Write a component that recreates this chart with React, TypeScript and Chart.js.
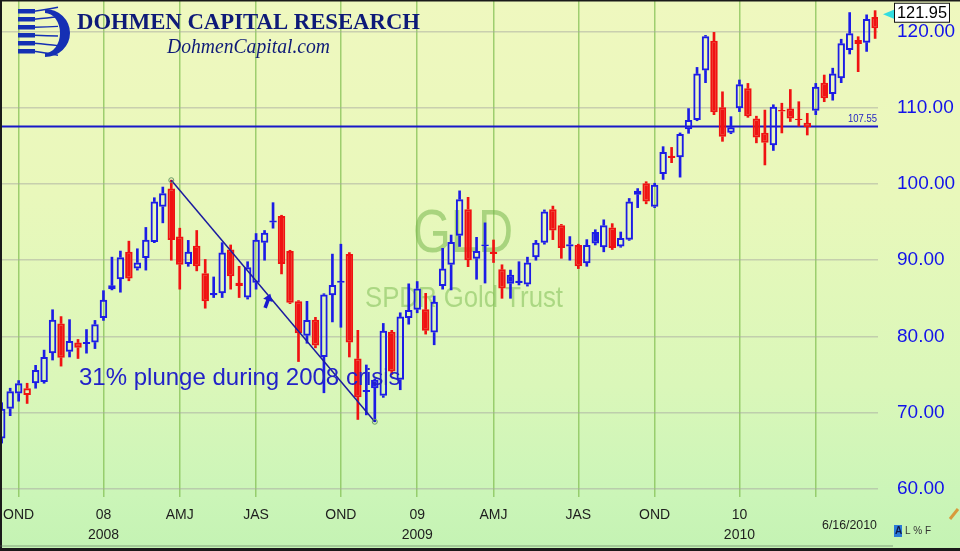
import React, { useEffect, useRef } from "react";
import { Chart, registerables } from "chart.js";

Chart.register(...registerables);

// ---- data ----
const OPEN = [
  66.6, 70.5, 72.5, 72.3, 73.85, 74.0, 77.8, 81.7, 78.0, 79.2,
  79.0, 79.2, 82.4, 86.2, 87.5, 91.1, 88.9, 90.3, 92.4, 97.0,
  99.4, 93.1, 89.5, 91.9, 88.3, 85.7, 85.65, 91.4, 86.6, 85.1,
  87.05, 92.3, 94.95, 95.8, 91.2, 84.6, 80.1, 82.2, 77.3, 85.4,
  87.3, 90.8, 77.1, 72.7, 74.3, 72.2, 80.6, 74.3, 82.4, 83.5,
  83.55, 80.5, 86.6, 89.4, 93.2, 96.7, 90.2, 91.85, 90.8, 88.8,
  88.1, 87.0, 86.8, 90.4, 92.3, 96.7, 94.6, 91.8, 92.0, 89.6,
  93.7, 91.7, 94.3, 91.8, 92.7, 99.1, 100.1, 97.0, 101.3, 103.4,
  103.5, 107.2, 108.4, 114.9, 118.8, 110.06, 106.74, 109.93, 112.55, 108.6,
  106.74, 105.1, 109.7, 109.9, 108.55, 107.44, 109.6, 113.3, 111.8, 113.87,
  117.6, 118.37, 118.55, 121.9,
];
const HIGH = [
  71.3, 73.2, 74.2, 73.85, 76.2, 78.2, 83.5, 82.6, 82.2, 79.6,
  80.9, 82.1, 86.0, 90.4, 91.2, 92.5, 91.5, 94.3, 98.2, 99.6,
  100.5, 94.2, 92.6, 93.9, 90.1, 87.8, 92.3, 92.0, 89.2, 89.8,
  93.5, 93.9, 97.55, 95.9, 91.3, 84.7, 84.6, 82.5, 85.6, 90.8,
  92.1, 91.0, 80.8, 76.25, 74.4, 81.7, 80.8, 83.1, 86.9, 87.2,
  85.65, 85.3, 91.56, 93.3, 99.1, 98.25, 93.0, 94.9, 92.65, 89.4,
  88.7, 89.8, 90.4, 92.6, 96.6, 97.1, 94.7, 93.1, 92.1, 92.7,
  94.0, 95.3, 94.8, 93.7, 98.1, 99.4, 100.3, 100.1, 104.9, 104.8,
  106.7, 109.9, 115.3, 119.5, 119.9, 112.1, 108.84, 113.65, 113.2, 108.9,
  109.7, 110.4, 110.6, 112.4, 110.8, 109.27, 113.2, 114.3, 115.2, 119.0,
  122.5, 119.33, 122.2, 122.75,
];
const LOW = [
  66.0, 69.6, 71.5, 71.2, 73.2, 73.85, 76.9, 76.1, 77.3, 77.1,
  77.8, 78.4, 82.1, 86.1, 85.8, 87.3, 88.7, 88.7, 92.3, 94.9,
  90.0, 86.2, 89.2, 88.6, 83.7, 85.1, 85.1, 86.2, 85.1, 84.9,
  86.2, 90.0, 94.2, 88.2, 84.3, 76.7, 79.1, 78.5, 72.6, 81.9,
  81.2, 77.3, 69.1, 69.7, 68.8, 72.0, 75.0, 73.0, 81.6, 83.1,
  80.3, 78.9, 86.2, 86.1, 91.8, 89.15, 87.5, 87.0, 89.7, 85.0,
  85.0, 86.75, 86.6, 90.0, 92.1, 92.7, 90.25, 90.0, 88.9, 89.2,
  92.0, 91.1, 91.4, 91.7, 92.6, 96.9, 97.4, 96.9, 100.6, 102.8,
  100.9, 106.65, 108.3, 113.3, 109.1, 105.6, 106.6, 109.5, 108.75, 105.4,
  102.5, 104.4, 106.7, 108.2, 107.6, 106.43, 109.1, 110.8, 111.0, 113.3,
  117.06, 114.74, 117.4, 119.1,
];
const CLOSE = [
  70.5, 72.8, 73.85, 73.2, 75.6, 77.3, 82.2, 77.2, 79.4, 78.5,
  79.25, 81.6, 84.8, 86.7, 90.4, 87.6, 89.7, 92.7, 97.7, 98.8,
  92.65, 89.4, 91.1, 89.2, 84.6, 85.4, 91.0, 87.9, 87.05, 89.06,
  92.7, 93.6, 95.2, 89.5, 84.4, 80.4, 82.15, 78.8, 85.5, 86.75,
  87.05, 79.2, 72.0, 72.95, 73.2, 80.75, 75.4, 82.6, 83.46, 86.3,
  80.75, 84.56, 88.9, 92.4, 98.0, 90.0, 91.2, 92.05, 91.1, 86.3,
  86.9, 87.3, 89.7, 92.3, 96.4, 93.9, 91.6, 92.1, 89.2, 92.0,
  92.2, 94.6, 91.6, 92.9, 97.7, 98.6, 97.7, 99.9, 104.2, 103.7,
  106.56, 108.4, 114.5, 119.4, 109.4, 106.2, 107.44, 113.08, 108.9, 106.1,
  105.4, 110.15, 109.5, 108.6, 108.4, 108.05, 112.77, 111.24, 114.5, 118.46,
  119.77, 118.9, 121.65, 120.45,
];

const QUARTER_IDX = [2, 12, 21, 30, 40, 49, 58, 68, 77, 87, 96];
const QUARTER_LABELS: string[][] = [
  ["OND"], ["08", "2008"], ["AMJ"], ["JAS"], ["OND"], ["09", "2009"],
  ["AMJ"], ["JAS"], ["OND"], ["10", "2010"], [""],
];
const Y_TICKS = [60, 70, 80, 90, 100, 110, 120];
const RESISTANCE = 107.55;
const LAST_PRICE = 121.95;
const TREND_START_IDX = 20; // peak candle
const TREND_END_IDX = 44; // trough candle
const LAST_DATE = "6/16/2010";
const TICKER = "GLD";
const TICKER_NAME = "SPDR Gold Trust";
const NOTE = "31% plunge during 2008 crisis";

// ---- view ----
const X_MIN = -0.2;
const X_MAX = 103.34;
const Y_MIN = 58.924;
const Y_MAX = 124.147;

const BLUE = "#1c1ce6";
const RED = "#f01212";

const isUp = (i: number) => (i === 0 ? CLOSE[0] >= OPEN[0] : CLOSE[i] >= CLOSE[i - 1]);
const candleColor = (i: number) => (isUp(i) ? BLUE : RED);
const isFilled = (i: number) => CLOSE[i] < OPEN[i];

const decor = {
  id: "decor",
  beforeDraw(chart: any) {
    const { ctx, width, height } = chart;
    ctx.save();
    const g = ctx.createLinearGradient(0, 0, 0, height);
    g.addColorStop(0, "#eff8bf");
    g.addColorStop(0.35, "#e9f8bb");
    g.addColorStop(0.7, "#daf7b9");
    g.addColorStop(0.9, "#cbf5b8");
    g.addColorStop(1, "#c4f3b3");
    ctx.fillStyle = g;
    ctx.fillRect(0, 0, width, height);
    ctx.restore();
  },
  beforeDatasetsDraw(chart: any) {
    const { ctx } = chart;
    ctx.save();
    ctx.fillStyle = "rgba(118,182,76,0.55)";
    ctx.textAlign = "center";
    ctx.textBaseline = "alphabetic";
    ctx.font = "62px 'Liberation Sans', Arial, sans-serif";
    ctx.fillText(TICKER, 463, 252, 100);
    ctx.fillStyle = "rgba(128,190,86,0.55)";
    ctx.font = "30px 'Liberation Sans', Arial, sans-serif";
    ctx.fillText(TICKER_NAME, 464, 307, 198);
    ctx.restore();
  },
  afterDatasetsDraw(chart: any) {
    const { ctx, scales } = chart;
    const xs = scales.x;
    const ys = scales.y;
    ctx.save();
    ctx.fillStyle = "#2222c8";
    ctx.font = "24px 'Liberation Sans', Arial, sans-serif";
    ctx.textAlign = "left";
    ctx.textBaseline = "alphabetic";
    ctx.fillText(NOTE, 79, 385, 322);
    const ax = xs.getPixelForValue(31.35);
    const ay = ys.getPixelForValue(84.6);
    ctx.translate(ax, ay);
    ctx.rotate(0.35);
    ctx.beginPath();
    ctx.moveTo(0, -8);
    ctx.lineTo(-5, -1);
    ctx.lineTo(-1.8, -1);
    ctx.lineTo(-1.8, 7);
    ctx.lineTo(1.8, 7);
    ctx.lineTo(1.8, -1);
    ctx.lineTo(5, -1);
    ctx.closePath();
    ctx.fillStyle = "#1a1ad0";
    ctx.fill();
    ctx.restore();
    ctx.save();
    ctx.fillStyle = "#2424c4";
    ctx.font = "10.5px 'Liberation Sans', Arial, sans-serif";
    ctx.textAlign = "right";
    ctx.textBaseline = "alphabetic";
    ctx.fillText(RESISTANCE.toFixed(2), chart.chartArea.right - 1, ys.getPixelForValue(RESISTANCE) - 4, 29);
    ctx.restore();
  },
  afterDraw(chart: any) {
    const { ctx, scales } = chart;
    const ys = scales.y;
    ctx.save();
    const navy = "#1530b4";
    ctx.fillStyle = navy;
    for (let k = 0; k < 6; k++) {
      const y = 9 + k * 8;
      ctx.fillRect(18, y, 17, 4.5);
      ctx.strokeStyle = navy;
      ctx.lineWidth = 1.4;
      ctx.beginPath();
      ctx.moveTo(34, y + 2.2);
      ctx.quadraticCurveTo(48, y + 2.2 + (k - 2.5) * 0.8, 58, y + 2.2 + (k - 2.5) * 1.6);
      ctx.stroke();
    }
    ctx.beginPath();
    ctx.ellipse(45, 33, 25, 24, 0, -Math.PI / 2, Math.PI / 2, false);
    ctx.ellipse(45, 33, 15, 20, 0, Math.PI / 2, -Math.PI / 2, true);
    ctx.closePath();
    ctx.fill();
    ctx.fillStyle = "#0e1a78";
    ctx.textAlign = "left";
    ctx.textBaseline = "alphabetic";
    ctx.font = "bold 23px 'Liberation Serif', 'Times New Roman', serif";
    ctx.fillText("DOHMEN CAPITAL RESEARCH", 77, 29, 343);
    ctx.font = "italic 20px 'Liberation Serif', 'Times New Roman', serif";
    ctx.fillText("DohmenCapital.com", 167, 53, 163);

    const py = ys.getPixelForValue(LAST_PRICE) - 4;
    ctx.fillStyle = "#33dde0";
    ctx.beginPath();
    ctx.moveTo(883, py + 1.5);
    ctx.lineTo(895, py - 3.5);
    ctx.lineTo(895, py + 6.5);
    ctx.closePath();
    ctx.fill();
    ctx.fillStyle = "#ffffff";
    ctx.fillRect(894.5, py - 9.5, 55, 19);
    ctx.strokeStyle = "#111";
    ctx.lineWidth = 1;
    ctx.strokeRect(894.5, py - 9.5, 55, 19);
    ctx.fillStyle = "#000";
    ctx.font = "17px 'Liberation Sans', Arial, sans-serif";
    ctx.textBaseline = "middle";
    ctx.fillText(LAST_PRICE.toFixed(2), 897, py + 0.5, 50);

    ctx.fillStyle = "#1e1e1e";
    ctx.font = "13px 'Liberation Sans', Arial, sans-serif";
    ctx.textBaseline = "middle";
    ctx.fillText(LAST_DATE, 822, 525, 55);

    ctx.fillStyle = "#2a7ad8";
    ctx.fillRect(894, 525, 8, 12);
    ctx.fillStyle = "#0c1a50";
    ctx.font = "bold 10px 'Liberation Sans', Arial, sans-serif";
    ctx.fillText("A", 895, 531.5);
    ctx.fillStyle = "#333";
    ctx.font = "10px 'Liberation Sans', Arial, sans-serif";
    ctx.fillText("L % F", 905, 531.5);

    ctx.strokeStyle = "#d89a3c";
    ctx.lineWidth = 3;
    ctx.beginPath();
    ctx.moveTo(950, 519);
    ctx.lineTo(958, 509);
    ctx.stroke();

    ctx.fillStyle = "#1a1a1a";
    ctx.fillRect(0, 0, 960, 1.5);
    ctx.fillRect(0, 0, 2, 551);
    ctx.fillRect(0, 548, 960, 3);
    ctx.fillStyle = "rgba(90,110,90,0.6)";
    ctx.fillRect(0, 545.5, 893, 1);
    ctx.restore();
  },
};

export default function App() {
  const ref = useRef<HTMLCanvasElement | null>(null);

  useEffect(() => {
    if (!ref.current) return;
    const idx = OPEN.map((_, i) => i);
    const colors = idx.map(candleColor);

    const chart = new Chart(ref.current, {
      type: "bar",
      data: {
        datasets: [
          {
            type: "line",
            data: [
              { x: X_MIN, y: RESISTANCE },
              { x: X_MAX, y: RESISTANCE },
            ],
            borderColor: "#1818c8",
            borderWidth: 2,
            pointRadius: 0,
            order: 10,
          } as any,
          {
            type: "bar",
            data: idx.map((i) => ({ x: i, y: [LOW[i], Math.min(OPEN[i], CLOSE[i])] })),
            backgroundColor: colors,
            borderWidth: 0,
            barThickness: 2,
            grouped: false,
            order: 5,
          } as any,
          {
            type: "bar",
            data: idx.map((i) => ({ x: i, y: [Math.max(OPEN[i], CLOSE[i]), HIGH[i]] })),
            backgroundColor: colors,
            borderWidth: 0,
            barThickness: 2,
            grouped: false,
            order: 5,
          } as any,
          {
            type: "bar",
            data: idx.map((i) => ({ x: i, y: [OPEN[i], CLOSE[i]] })),
            backgroundColor: idx.map((i) => (isFilled(i) ? colors[i] : "rgba(0,0,0,0)")),
            borderColor: colors,
            borderWidth: 2,
            borderSkipped: false,
            inflateAmount: 0,
            barThickness: 7.5,
            grouped: false,
            order: 4,
          } as any,
          {
            type: "line",
            data: [
              { x: TREND_START_IDX, y: HIGH[TREND_START_IDX] },
              { x: TREND_END_IDX, y: LOW[TREND_END_IDX] },
            ],
            borderColor: "#1c1ca0",
            borderWidth: 1.5,
            pointRadius: 2.5,
            pointBackgroundColor: "rgba(0,0,0,0)",
            pointBorderColor: "#6a9a6a",
            pointBorderWidth: 1,
            order: 0,
          } as any,
        ],
      },
      options: {
        responsive: false,
        maintainAspectRatio: false,
        animation: false,
        events: [],
        layout: { padding: 0, autoPadding: false },
        plugins: {
          legend: { display: false },
          tooltip: { enabled: false },
        },
        scales: {
          x: {
            type: "linear",
            position: "bottom",
            min: X_MIN,
            max: X_MAX,
            bounds: "data",
            offset: false,
            afterBuildTicks: (s: any) => {
              s.ticks = QUARTER_IDX.map((v) => ({ value: v }));
            },
            afterFit: (s: any) => {
              s.height = 54;
              s.paddingLeft = 0;
              s.paddingRight = 0;
            },
            grid: { color: "rgba(132,192,84,0.75)", lineWidth: 1.5, drawTicks: false, offset: false },
            border: { display: false },
            ticks: {
              autoSkip: false,
              maxRotation: 0,
              minRotation: 0,
              padding: 8,
              color: "#1e1e1e",
              font: { family: "'Liberation Sans', Arial, sans-serif", size: 14, lineHeight: 1.43 },
              callback: (v: any) => {
                const k = QUARTER_IDX.indexOf(Number(v));
                return k >= 0 ? QUARTER_LABELS[k] : "";
              },
            },
          } as any,
          y: {
            type: "linear",
            position: "right",
            min: Y_MIN,
            max: Y_MAX,
            bounds: "data",
            afterBuildTicks: (s: any) => {
              s.ticks = Y_TICKS.map((v) => ({ value: v }));
            },
            afterFit: (s: any) => {
              s.width = 82;
              s.paddingTop = 0;
              s.paddingBottom = 0;
            },
            grid: { color: "rgba(165,165,160,0.5)", lineWidth: 1.5, drawTicks: false },
            border: { display: false },
            ticks: {
              autoSkip: false,
              padding: 19,
              color: "#1212ea",
              font: { family: "'Liberation Sans', Arial, sans-serif", size: 19 },
              callback: (v: any) => Number(v).toFixed(2),
            },
          } as any,
        },
      },
      plugins: [decor],
    });
    return () => chart.destroy();
  }, []);

  return (
    <div style={{ position: "fixed", left: 0, top: 0, width: 960, height: 551 }}>
      <canvas ref={ref} width={960} height={551} style={{ display: "block", width: 960, height: 551 }} />
    </div>
  );
}
